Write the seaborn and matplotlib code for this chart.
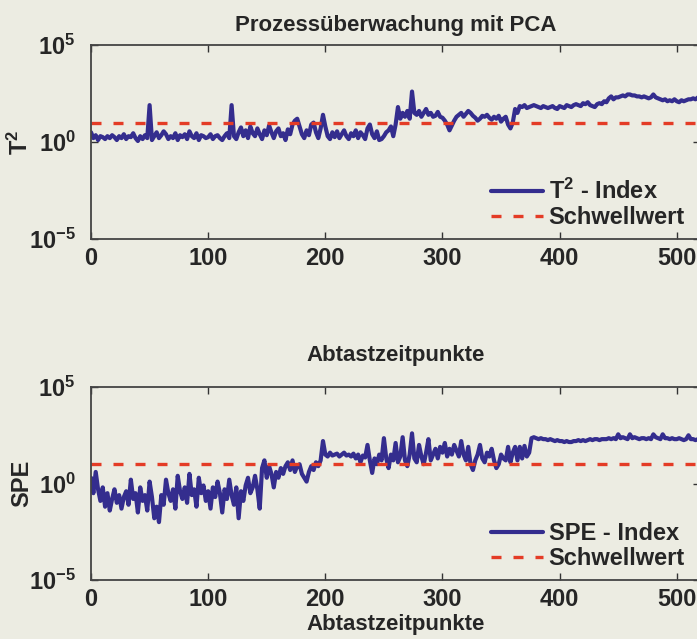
import numpy as np
import pandas as pd
import matplotlib
matplotlib.use('Agg')
import matplotlib.pyplot as plt
import seaborn as sns
from matplotlib.ticker import NullLocator, FixedLocator

# sample index (every 2nd sample)
samples = np.arange(0, 521, 2)

# log10 of the T^2 index
t2_log = [
    0.5, 0.2, 0.35, 0.1, 0.3, 0.25, 0.15, 0.3, 0.2, 0.35,
    0.25, 0.1, 0.3, 0.2, 0.4, 0.15, 0.3, 0.25, 0.45, 0.2,
    0.05, 0.3, 0.15, 0.35, 0.2, 1.9, 0.1, 0.3, 0.5, 0.2,
    0.35, 0.55, 0.4, 0.15, 0.3, 0.2, 0.45, 0.1, 0.35, 0.25,
    0.4, 0.15, 0.55, 0.3, 0.2, 0.45, 0.1, 0.35, 0.3, 0.2,
    0.25, 0.4, 0.15, 0.3, 0.35, 0.2, 0.1, 0.3, 0.45, 0.2,
    1.9, 0.3, 0.15, 0.5, 0.75, 0.3, 0.6, 0.2, 0.8, 0.45,
    0.3, 0.7, 0.4, 0.15, 0.6, 0.35, 0.85, 0.5, 0.2, 0.55,
    0.7, 0.3, 0.45, 0.1, 0.65, 0.4, 0.9, 1.1, 1.2, 0.8,
    0.4, 0.2, 0.6, 0.35, 0.9, 1.0, 0.5, 0.2, 0.7, 1.4,
    0.8, 0.3, 0.15, 0.5, 0.25, 0.55, 0.2, 0.4, 0.6, 0.3,
    0.15, 0.45, 0.3, 0.6, 0.2, 0.5, 0.35, 0.15, 0.7, 0.9,
    0.4, 0.2, 0.55, 0.1, 0.15, 0.3, 0.5, 0.6, 0.8, 0.3,
    0.9, 1.8, 1.2, 1.5, 1.3, 1.6, 1.2, 2.6, 1.5, 1.4,
    1.6, 1.3, 1.5, 1.7, 1.4, 1.5, 1.3, 1.35, 1.55, 1.3,
    1.25, 1.1, 0.9, 0.6, 0.85, 1.1, 1.3, 1.4, 1.5, 1.3,
    1.45, 1.6, 1.5, 1.35, 1.25, 1.1, 1.2, 1.35, 1.3, 1.4,
    1.25, 1.15, 1.3, 1.2, 1.35, 1.05, 1.2, 1.3, 0.9, 0.7,
    1.0, 1.7, 1.5, 1.85, 1.8, 1.9, 1.75, 1.8, 1.85, 1.9,
    1.85, 1.8, 1.75, 1.85, 1.8, 1.75, 1.8, 1.85, 1.75, 1.7,
    1.85, 1.8, 1.75, 1.9, 1.85, 1.8, 1.9, 1.95, 1.9, 1.85,
    2.0, 1.95, 2.05, 1.9, 1.85, 1.8, 1.95, 2.0, 1.95, 2.1,
    2.05, 2.25, 2.35, 2.2, 2.3, 2.3, 2.35, 2.4, 2.35, 2.45,
    2.45, 2.4, 2.4, 2.35, 2.35, 2.3, 2.35, 2.3, 2.25, 2.3,
    2.45, 2.3, 2.25, 2.2, 2.15, 2.2, 2.1, 2.15, 2.1, 2.2,
    2.1, 2.05, 2.15, 2.1, 2.15, 2.2, 2.2, 2.25, 2.2, 2.3,
    2.3,
]

# log10 of the SPE index
spe_log = [
    0.3, -0.5, 0.6, -0.3, -0.9, -0.2, -1.2, -0.5, -1.4, -0.8,
    -0.3, -1.0, -0.6, -1.3, -0.7, -0.4, -1.1, 0.2, -0.8, -0.5,
    -1.5, -0.2, -0.9, -0.6, -1.4, 0.1, -0.7, -1.8, -1.2, -2.0,
    -0.6, -1.1, 0.2, -0.5, -0.9, -0.3, -1.3, 0.4, -0.4, -0.8,
    -0.2, -1.0, 0.5, -0.6, -0.3, -1.2, 0.3, -0.5, -0.1, -0.9,
    -0.4, -1.3, -0.2, -0.7, 0.1, -0.5, -1.5, -0.3, -0.8, 0.2,
    -0.6, -1.1, -0.2, -1.8, -0.4, -0.9, -0.1, 0.3, -0.5, -0.2,
    0.4, -0.3, -1.3, 0.8, 1.2, 0.3, 0.9, 0.5, -0.2, 0.6,
    0.3, 0.8, 0.5, 0.9, 1.1, 0.7, 1.2, 0.6, 0.9, 1.0,
    0.5, 0.3, 0.1, 0.6, 0.9, 0.7, 1.1, 0.9, 1.2, 2.2,
    1.5, 1.4, 1.6, 1.45, 1.5, 1.55, 1.4, 1.5, 1.6, 1.45,
    1.5, 1.4, 1.55, 1.3, 1.5, 1.1, 1.45, 1.35, 2.0, 1.2,
    0.55, 1.3, 1.0, 1.5, 1.2, 2.35, 1.3, 0.8, 1.5, 1.2,
    2.1, 1.1, 1.4, 2.4, 1.2, 0.9, 1.5, 2.6, 1.3, 1.1,
    2.0, 1.4, 1.0, 1.6, 2.3, 1.2, 1.5, 1.8, 1.3, 1.9,
    1.6, 2.1, 1.4, 1.8, 1.5, 2.0, 1.7, 1.4, 2.2, 1.5,
    1.2, 1.9, 1.0, 0.7, 1.2, 1.5, 2.0, 1.3, 1.1, 1.6,
    1.4, 1.8, 1.2, 0.8, 1.0, 1.5, 1.3, 1.2, 1.9, 1.1,
    1.6, 1.9, 1.2, 1.9, 1.3, 1.95, 1.4, 1.6, 2.35, 2.4,
    2.35, 2.3, 2.35, 2.3, 2.3, 2.25, 2.3, 2.25, 2.2, 2.25,
    2.2, 2.2, 2.15, 2.2, 2.15, 2.15, 2.2, 2.2, 2.25, 2.2,
    2.25, 2.2, 2.25, 2.3, 2.25, 2.3, 2.3, 2.25, 2.3, 2.3,
    2.3, 2.35, 2.3, 2.35, 2.3, 2.55, 2.35, 2.4, 2.35, 2.3,
    2.55, 2.35, 2.4, 2.35, 2.3, 2.35, 2.35, 2.3, 2.35, 2.3,
    2.55, 2.4, 2.35, 2.3, 2.55, 2.35, 2.35, 2.3, 2.35, 2.3,
    2.3, 2.35, 2.3, 2.25, 2.3, 2.5, 2.3, 2.3, 2.25, 2.3,
    2.3,
]

t2_threshold = 10.0
spe_threshold = 10.0

x_ticks = [0, 100, 200, 300, 400, 500]
y_ticks = [1e-5, 1e0, 1e5]

BG = '#ECECE2'
BLUE = '#342D8E'
RED = '#E43C26'

sns.set_style('ticks')
plt.rcParams['font.family'] = ['Liberation Sans', 'DejaVu Sans']
plt.rcParams['font.weight'] = 'bold'
plt.rcParams['mathtext.fontset'] = 'custom'
plt.rcParams['mathtext.rm'] = 'Liberation Sans:bold'
plt.rcParams['mathtext.bf'] = 'Liberation Sans:bold'
plt.rcParams['mathtext.it'] = 'Liberation Sans:bold'

df = pd.DataFrame({'sample': samples,
                   't2': 10 ** np.array(t2_log),
                   'spe': 10 ** np.array(spe_log)})

fig = plt.figure(figsize=(6.97, 6.39), dpi=100, facecolor=BG)
ax1 = fig.add_axes([0.1306, 0.626, 0.874, 0.3036])
ax2 = fig.add_axes([0.1306, 0.0923, 0.874, 0.302])

panels = [
    (ax1, 't2', t2_threshold, r'T$^{2}$', r'T$^{2}$ - Index'),
    (ax2, 'spe', spe_threshold, 'SPE', 'SPE - Index'),
]

for ax, col, thr, ylab, leg in panels:
    ax.set_facecolor(BG)
    sns.lineplot(data=df, x='sample', y=col, ax=ax, color=BLUE,
                 linewidth=3.0, label=leg)
    ax.axhline(thr, color=RED, linewidth=2.4, dashes=(3, 3.6),
               label='Schwellwert')
    ax.set_yscale('log')
    ax.set_ylim(1e-5, 1e5)
    ax.set_xlim(0, 520)
    ax.yaxis.set_major_locator(FixedLocator(y_ticks))
    ax.yaxis.set_minor_locator(NullLocator())
    ax.set_xticks(x_ticks)
    ax.tick_params(direction='in', top=True, right=True, length=5,
                   width=1, labelsize=17, color='#333333')
    ax.tick_params(axis='x', pad=6)
    ax.tick_params(axis='y', pad=11)
    for s in ax.spines.values():
        s.set_color('#444444')
        s.set_linewidth(1.3)
    ax.set_ylabel(ylab, fontsize=17, fontweight='bold')
    ax.yaxis.set_label_coords(-0.095, 0.5)
    ax.set_xlabel('')
    ax.legend(loc='lower right', bbox_to_anchor=(0.975, 0.05), frameon=False,
              fontsize=17, handlelength=2.2, handletextpad=0.25,
              labelspacing=0.1, borderpad=0, borderaxespad=0)

ax1.set_title('Prozessüberwachung mit PCA', fontsize=16, fontweight='bold', pad=10)
ax2.set_title('Abtastzeitpunkte', fontsize=16, fontweight='bold', pad=19)
ax2.set_xlabel('Abtastzeitpunkte', fontsize=16, fontweight='bold', labelpad=2)

fig.savefig('out.png', dpi=100, facecolor=BG)
